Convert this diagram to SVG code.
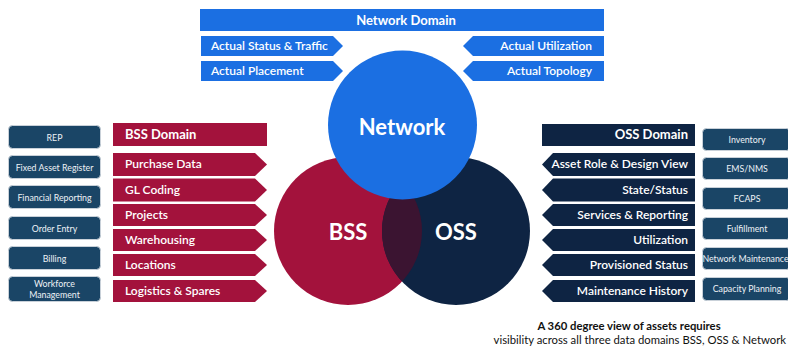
<svg xmlns="http://www.w3.org/2000/svg" width="788" height="349" viewBox="0 0 788 349">
  <defs>
    <style>
      .net { fill: #1b6fe2; }
      .bss { fill: #a3123c; }
      .oss { fill: #0e2443; }
      .tile { fill: #1a4566; stroke: #c9d1d9; stroke-width: 1; }
      .lbl { font-family: Lato, "Open Sans", sans-serif; font-weight: 600; fill: #ffffff; font-size: 12px; }
      .head { font-family: Lato, "Open Sans", sans-serif; font-weight: 700; fill: #ffffff; font-size: 13px; }
      .small { font-family: Lato, "Open Sans", sans-serif; font-weight: 400; fill: #eef2f6; font-size: 8.8px; text-anchor: middle; }
      .big { font-family: Lato, "Open Sans", sans-serif; font-weight: 700; fill: #ffffff; font-size: 22px; text-anchor: middle; }
      .note { font-family: Lato, "Open Sans", sans-serif; fill: #111111; font-size: 11.3px; }
    </style>
    <clipPath id="bssClip"><circle cx="348" cy="231" r="74"/></clipPath>
  </defs>

  <rect width="788" height="349" fill="#ffffff"/>

  <!-- Venn circles -->
  <g id="circle-bss"><circle class="bss" cx="348" cy="231" r="74"/></g>
  <g id="circle-oss"><circle class="oss" cx="456" cy="231" r="74"/></g>
  <g id="overlap"><circle cx="456" cy="231" r="74" fill="#3b1431" clip-path="url(#bssClip)"/></g>
  <g id="circle-network"><circle class="net" cx="402.5" cy="125" r="74.5"/>
    <text class="big" x="402" y="135">Network</text></g>
  <text class="big" x="348" y="240">BSS</text>
  <text class="big" x="456" y="240">OSS</text>

  <!-- Network domain -->
  <g id="network-domain">
    <rect class="net" x="200" y="9" width="404" height="22"/>
    <text class="head" x="406" y="25" text-anchor="middle">Network Domain</text>
  </g>
  <g id="net-items">
    <polygon class="net" points="201,36 333,36 343,46 333,56 201,56"/>
    <text class="lbl" x="211" y="50">Actual Status &amp; Traffic</text>
    <polygon class="net" points="201,61 333,61 343,71 333,81 201,81"/>
    <text class="lbl" x="211" y="75">Actual Placement</text>
    <polygon class="net" points="604,36 473,36 463,46 473,56 604,56"/>
    <text class="lbl" x="592" y="50" text-anchor="end">Actual Utilization</text>
    <polygon class="net" points="604,61 473,61 463,71 473,81 604,81"/>
    <text class="lbl" x="592" y="75" text-anchor="end">Actual Topology</text>
  </g>

  <!-- BSS domain -->
  <g id="bss-domain">
    <rect class="bss" x="113" y="123" width="154" height="23"/>
    <text class="head" x="125" y="139">BSS Domain</text>
  </g>
  <g id="bss-items">
    <polygon class="bss" points="113,153 255,153 267,164.5 255,176 113,176"/>
    <text class="lbl" x="125" y="168">Purchase Data</text>
    <polygon class="bss" points="113,178.5 255,178.5 267,190 255,201.5 113,201.5"/>
    <text class="lbl" x="125" y="193.5">GL Coding</text>
    <polygon class="bss" points="113,204 255,204 267,215 255,226 113,226"/>
    <text class="lbl" x="125" y="218.5">Projects</text>
    <polygon class="bss" points="113,229 255,229 267,240 255,251 113,251"/>
    <text class="lbl" x="125" y="244">Warehousing</text>
    <polygon class="bss" points="113,254 255,254 267,265 255,276 113,276"/>
    <text class="lbl" x="125" y="269">Locations</text>
    <polygon class="bss" points="113,280 255,280 267,291 255,302 113,302"/>
    <text class="lbl" x="125" y="295">Logistics &amp; Spares</text>
  </g>

  <!-- OSS domain -->
  <g id="oss-domain">
    <rect class="oss" x="542" y="124" width="153" height="22"/>
    <text class="head" x="688" y="139" text-anchor="end">OSS Domain</text>
  </g>
  <g id="oss-items">
    <polygon class="oss" points="695,153 553,153 542,164.5 553,176 695,176"/>
    <text class="lbl" x="688" y="168" text-anchor="end">Asset Role &amp; Design View</text>
    <polygon class="oss" points="695,178.5 553,178.5 542,190 553,201.5 695,201.5"/>
    <text class="lbl" x="688" y="193.5" text-anchor="end">State/Status</text>
    <polygon class="oss" points="695,204 553,204 542,215 553,226 695,226"/>
    <text class="lbl" x="688" y="218.5" text-anchor="end">Services &amp; Reporting</text>
    <polygon class="oss" points="695,229 553,229 542,240 553,251 695,251"/>
    <text class="lbl" x="688" y="244" text-anchor="end">Utilization</text>
    <polygon class="oss" points="695,254 553,254 542,265 553,276 695,276"/>
    <text class="lbl" x="688" y="269" text-anchor="end">Provisioned Status</text>
    <polygon class="oss" points="695,280 553,280 542,291 553,302 695,302"/>
    <text class="lbl" x="688" y="295" text-anchor="end">Maintenance History</text>
  </g>

  <!-- BSS systems -->
  <g id="bss-systems">
    <rect class="tile" x="8.5" y="125.5" width="92" height="23" rx="4"/>
    <text class="small" x="54.5" y="140.5">REP</text>
    <rect class="tile" x="8.5" y="155.5" width="92" height="23" rx="4"/>
    <text class="small" x="54.5" y="170.5">Fixed Asset Register</text>
    <rect class="tile" x="8.5" y="185.5" width="92" height="23" rx="4"/>
    <text class="small" x="54.5" y="200.5">Financial Reporting</text>
    <rect class="tile" x="8.5" y="216.5" width="92" height="23" rx="4"/>
    <text class="small" x="54.5" y="231.5">Order Entry</text>
    <rect class="tile" x="8.5" y="246.5" width="92" height="23" rx="4"/>
    <text class="small" x="54.5" y="261.5">Billing</text>
    <rect class="tile" x="8.5" y="276.5" width="92" height="25" rx="4"/>
    <text class="small" x="54.5" y="287">Workforce</text>
    <text class="small" x="54.5" y="297.5">Management</text>
  </g>

  <!-- OSS systems -->
  <g id="oss-systems">
    <rect class="tile" x="702.5" y="128.5" width="88" height="22" rx="4"/>
    <text class="small" x="747" y="142.5">Inventory</text>
    <rect class="tile" x="702.5" y="157.5" width="88" height="22" rx="4"/>
    <text class="small" x="747" y="171.5">EMS/NMS</text>
    <rect class="tile" x="702.5" y="187.5" width="88" height="22" rx="4"/>
    <text class="small" x="747" y="201.5">FCAPS</text>
    <rect class="tile" x="702.5" y="217.5" width="88" height="22" rx="4"/>
    <text class="small" x="747" y="231.5">Fulfillment</text>
    <rect class="tile" x="702.5" y="247.5" width="88" height="22" rx="4"/>
    <text class="small" x="745.5" y="261.5" font-size="8.2">Network Maintenance</text>
    <rect class="tile" x="702.5" y="277.5" width="88" height="23" rx="4"/>
    <text class="small" x="747" y="292">Capacity Planning</text>
  </g>

  <!-- Caption -->
  <text class="note" x="629" y="330" font-weight="700" font-size="11.5" text-anchor="middle">A 360 degree view of assets requires</text>
  <text class="note" x="786" y="344" text-anchor="end">visibility across all three data domains BSS, OSS &amp; Network</text>
</svg>
